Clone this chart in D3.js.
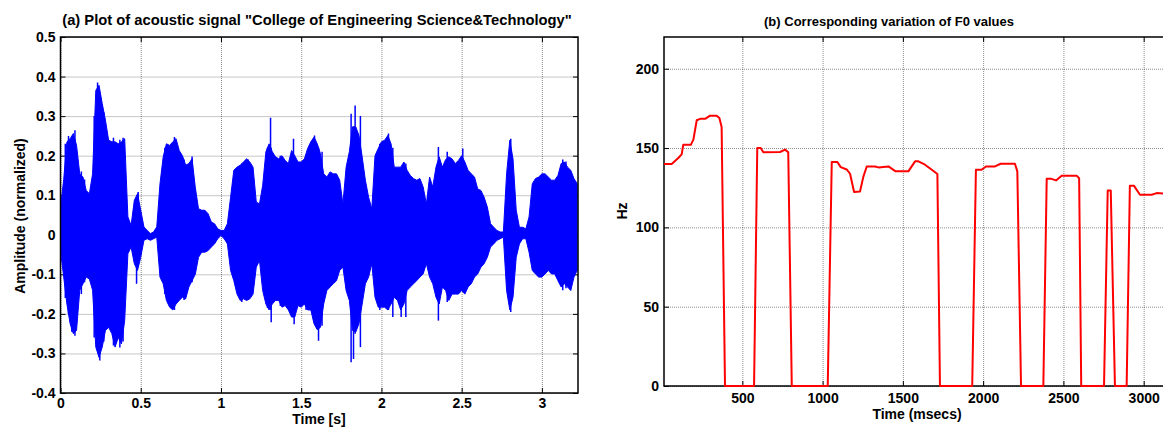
<!DOCTYPE html>
<html>
<head>
<meta charset="utf-8">
<script src="https://cdn.jsdelivr.net/npm/d3@7"></script>
<style>
  body { margin: 0; background: #fff; }
  svg { display: block; font-family: "Liberation Sans", Arial, sans-serif; font-weight: bold; }
  .grid line { stroke: #000; stroke-opacity: 0.45; stroke-dasharray: 1,1; }
  .grid path { display: none; }
  .ax path { display: none; }
  .ax line { stroke: #000; }
  .ax text { font-size: 14px; font-weight: bold; fill: #000; }
</style>
</head>
<body>
<script>
// (a) waveform envelope, one value every 0.02 s
const waveStep = 0.02;
const waveUpper = [
  0.07, 0.14, 0.235, 0.243, 0.256, 0.226, 0.154, 0.146, 0.112, 0.104,
  0.154, 0.365, 0.378, 0.332, 0.29, 0.239, 0.235, 0.235, 0.23, 0.235,
  0.243, 0.045, 0.024, 0.087, 0.104, 0.062, 0.02, 0.011, 0.003, 0.007,
  0.02, 0.129, 0.197, 0.23, 0.226, 0.235, 0.243, 0.213, 0.2, 0.176,
  0.18, 0.192, 0.12, 0.066, 0.062, 0.062, 0.053, 0.032, 0.028, 0.015,
  0.011, 0.011, 0.028, 0.095, 0.163, 0.171, 0.176, 0.184, 0.192, 0.184,
  0.171, 0.083, 0.078, 0.125, 0.21, 0.23, 0.21, 0.197, 0.192, 0.2,
  0.188, 0.18, 0.213, 0.2, 0.184, 0.184, 0.192, 0.218, 0.235, 0.247,
  0.23, 0.205, 0.154, 0.146, 0.159, 0.154, 0.154, 0.138, 0.078, 0.171,
  0.21, 0.273, 0.273, 0.251, 0.197, 0.138, 0.095, 0.066, 0.2, 0.218,
  0.235, 0.239, 0.251, 0.23, 0.171, 0.171, 0.171, 0.184, 0.163, 0.15,
  0.142, 0.138, 0.142, 0.121, 0.078, 0.146, 0.121, 0.171, 0.197, 0.171,
  0.19, 0.197, 0.192, 0.18, 0.188, 0.2, 0.184, 0.163, 0.154, 0.146,
  0.116, 0.112, 0.095, 0.07, 0.028, 0.019, 0.011, 0.007, 0.007, 0.154,
  0.239, 0.192, 0.062, 0.019, 0.019, 0.015, 0.045, 0.129, 0.142, 0.146,
  0.154, 0.154, 0.146, 0.138, 0.138, 0.15, 0.18, 0.184, 0.171, 0.163,
  0.142, 0.129
];
const waveLower = [
  -0.04, -0.107, -0.175, -0.225, -0.25, -0.242, -0.14, -0.124, -0.107, -0.112,
  -0.14, -0.284, -0.31, -0.284, -0.242, -0.234, -0.25, -0.284, -0.26, -0.276,
  -0.217, -0.048, -0.031, -0.073, -0.09, -0.057, -0.014, -0.01, -0.014, -0.01,
  -0.006, -0.107, -0.124, -0.166, -0.183, -0.19, -0.175, -0.166, -0.158, -0.162,
  -0.132, -0.116, -0.1, -0.057, -0.044, -0.044, -0.04, -0.031, -0.023, -0.01,
  -0.002, -0.01, -0.023, -0.09, -0.116, -0.15, -0.166, -0.162, -0.166, -0.162,
  -0.15, -0.082, -0.065, -0.141, -0.175, -0.19, -0.175, -0.166, -0.166, -0.183,
  -0.179, -0.19, -0.208, -0.208, -0.179, -0.183, -0.175, -0.19, -0.19, -0.225,
  -0.24, -0.234, -0.175, -0.141, -0.132, -0.124, -0.116, -0.09, -0.082, -0.141,
  -0.166, -0.242, -0.246, -0.225, -0.175, -0.124, -0.107, -0.073, -0.158, -0.183,
  -0.183, -0.183, -0.19, -0.175, -0.158, -0.166, -0.19, -0.175, -0.141, -0.132,
  -0.124, -0.116, -0.107, -0.099, -0.073, -0.107, -0.124, -0.158, -0.175, -0.132,
  -0.141, -0.166, -0.15, -0.15, -0.15, -0.141, -0.15, -0.132, -0.124, -0.107,
  -0.099, -0.082, -0.073, -0.057, -0.031, -0.023, -0.014, -0.01, -0.006, -0.141,
  -0.19, -0.158, -0.057, -0.023, -0.01, -0.01, -0.044, -0.09, -0.099, -0.107,
  -0.107, -0.099, -0.09, -0.099, -0.099, -0.116, -0.132, -0.124, -0.132, -0.141,
  -0.107, -0.09
];
// single tall excursions of the waveform: [time s, top, bottom]
const waveSpikes = [
  [0.03, 0.23, -0.16], [0.05, 0.25, -0.2], [0.07, 0.245, -0.245],
  [0.09, 0.264, -0.255], [0.13, 0.16, -0.15], [0.15, 0.14, -0.12],
  [0.21, 0.3, -0.26], [0.231, 0.385, -0.25], [0.245, 0.36, -0.318],
  [0.27, 0.31, -0.27], [0.33, 0.245, -0.28], [0.37, 0.24, -0.285], [0.39, 0.245, -0.27],
  [0.474, 0.09, -0.124], [0.484, 0.108, -0.08], [0.65, 0.22, -0.15], [0.71, 0.247, -0.19],
  [0.77, 0.19, -0.165], [0.82, 0.198, -0.12], [1.13, 0.18, -0.17], [1.17, 0.19, -0.165],
  [1.29, 0.22, -0.185], [1.309, 0.296, -0.19], [1.313, 0.22, -0.221], [1.37, 0.2, -0.18],
  [1.452, 0.243, -0.2], [1.456, 0.2, -0.226], [1.53, 0.2, -0.19], [1.583, 0.251, -0.22],
  [1.608, 0.22, -0.268], [1.63, 0.21, -0.23], [1.811, 0.306, -0.322], [1.826, 0.26, -0.314],
  [1.836, 0.327, -0.25], [1.869, 0.30, -0.284], [1.99, 0.23, -0.19], [2.044, 0.256, -0.19],
  [2.071, 0.22, -0.208], [2.123, 0.17, -0.208], [2.152, 0.18, -0.208],
  [2.355, 0.222, -0.217], [2.41, 0.21, -0.17], [2.507, 0.218, -0.14], [2.806, 0.243, -0.195],
  [3.13, 0.19, -0.14], [3.15, 0.185, -0.135]
];
const waveXTicks = [0, 0.5, 1, 1.5, 2, 2.5, 3];
const waveXLabels = ["0", "0.5", "1", "1.5", "2", "2.5", "3"];
const waveYTicks = [-0.4, -0.3, -0.2, -0.1, 0, 0.1, 0.2, 0.3, 0.4, 0.5];
const waveYLabels = ["-0.4", "-0.3", "-0.2", "-0.1", "0", "0.1", "0.2", "0.3", "0.4", "0.5"];

// (b) F0 contour
const f0Time = [12, 60, 101, 122, 132, 179, 195, 216, 237, 268, 299, 340, 357, 371, 392,
  573, 593, 614, 631, 735, 766, 786, 808,
  1032, 1057, 1092, 1113, 1150, 1171, 1196, 1233, 1254, 1275, 1327, 1348, 1410, 1455,
  1534, 1576, 1597, 1638, 1680, 1715, 1731,
  1932, 1955, 1990, 2018, 2074, 2109, 2198, 2213, 2236,
  2375, 2396, 2421, 2454, 2489, 2582, 2598, 2611,
  2753, 2776, 2795, 2821,
  2894, 2914, 2939, 2977, 3050, 3081, 3130];
const f0Hz = [140, 140, 143.7, 146, 152, 152, 155.3, 167.5, 168.4, 168.4, 170.4, 170.4, 169, 163.3, 0,
  0, 150, 150, 147.3, 147.5, 149, 147.3, 0,
  0, 141.2, 141.2, 138, 136.5, 133.8, 122.3, 122.6, 132, 138.4, 138.4, 137.8, 138.4, 135.3,
  135.3, 141.6, 141.6, 139.5, 136.3, 133.6, 0,
  0, 136.3, 136.3, 138.4, 138.4, 140.1, 140.1, 135.3, 0,
  0, 130.7, 130.7, 129.6, 132.6, 132.6, 131, 0,
  0, 123.3, 123.3, 0,
  0, 126.3, 126.3, 120.6, 120.6, 121.6, 121.3];
const f0XTicks = [500, 1000, 1500, 2000, 2500, 3000];
const f0YTicks = [0, 50, 100, 150, 200];

const W = 1163, H = 427;
const svg = d3.select("body").append("svg").attr("width", W).attr("height", H);

function frame(g, x, y, xTicks, yTicks, xFmt, yFmt, xPad) {
  const [x0, x1] = x.range();
  const [y0, y1] = y.range(); // y0 bottom, y1 top
  g.append("g").attr("class", "grid").attr("transform", `translate(0,${y0})`)
    .call(d3.axisBottom(x).tickValues(xTicks).tickSize(-(y0 - y1)).tickFormat(""));
  g.append("g").attr("class", "grid").attr("transform", `translate(${x0},0)`)
    .call(d3.axisLeft(y).tickValues(yTicks).tickSize(-(x1 - x0)).tickFormat(""));
  g.append("g").attr("class", "ax").attr("transform", `translate(0,${y0})`)
    .call(d3.axisBottom(x).tickValues(xTicks).tickSize(-5).tickPadding(xPad).tickFormat(xFmt));
  g.append("g").attr("class", "ax").attr("transform", `translate(0,${y1})`)
    .call(d3.axisTop(x).tickValues(xTicks).tickSize(-5).tickFormat(""));
  g.append("g").attr("class", "ax").attr("transform", `translate(${x0},0)`)
    .call(d3.axisLeft(y).tickValues(yTicks).tickSize(-5).tickPadding(5).tickFormat(yFmt));
  g.append("g").attr("class", "ax").attr("transform", `translate(${x1},0)`)
    .call(d3.axisRight(y).tickValues(yTicks).tickSize(-5).tickFormat(""));
}

function box(g, x, y) {
  const [x0, x1] = x.range();
  const [y0, y1] = y.range();
  g.append("rect").attr("x", x0).attr("y", y1).attr("width", x1 - x0).attr("height", y0 - y1)
    .attr("fill", "none").attr("stroke", "#000").attr("stroke-width", 1.5);
}

// ---- panel (a)
const xa = d3.scaleLinear().domain([0, 3.225]).range([60.5, 578]);
const ya = d3.scaleLinear().domain([-0.4, 0.5]).range([393, 37]);
const ga = svg.append("g");
frame(ga, xa, ya, waveXTicks, waveYTicks,
  (d, i) => waveXLabels[i], (d, i) => waveYLabels[i], 5);

svg.append("clipPath").attr("id", "clipa").append("rect")
  .attr("x", 60.5).attr("y", 37).attr("width", 578 - 60.5).attr("height", 393 - 37);

const wave = waveUpper.map((u, i) => ({ t: i * waveStep, hi: u, lo: waveLower[i] }));
const area = d3.area().x(d => xa(d.t)).y0(d => ya(d.lo)).y1(d => ya(d.hi));
const wg = ga.append("g").attr("clip-path", "url(#clipa)");
wg.append("path").datum(wave).attr("d", area)
  .attr("fill", "#0000ff").attr("stroke", "#0000ff").attr("stroke-width", 1);
wg.selectAll("line.spike").data(waveSpikes).enter().append("line")
  .attr("class", "spike")
  .attr("x1", d => xa(d[0])).attr("x2", d => xa(d[0]))
  .attr("y1", d => ya(d[1])).attr("y2", d => ya(d[2]))
  .attr("stroke", "#0000ff").attr("stroke-width", 1.5);
box(ga, xa, ya);

const ta = ga.append("text").attr("x", 317).attr("y", 25).attr("text-anchor", "middle")
  .attr("font-size", 14).text('(a) Plot of acoustic signal "College of Engineering Science&Technology"');
// the title spans about 510 px in the picture
ta.attr("font-size", 14 * 510 / ta.node().getComputedTextLength());
ga.append("text").attr("x", 319).attr("y", 424).attr("text-anchor", "middle")
  .attr("font-size", 14).text("Time [s]");
ga.append("text").attr("transform", "translate(25,216) rotate(-90)").attr("text-anchor", "middle")
  .attr("font-size", 14).text("Amplitude (normalized)");

// ---- panel (b)
const xb = d3.scaleLinear().domain([12, 3164]).range([664, 1170]);
const yb = d3.scaleLinear().domain([0, 220]).range([386, 37]);
const gb = svg.append("g");
frame(gb, xb, yb, f0XTicks, f0YTicks, d => String(d), d => String(d), 7);
box(gb, xb, yb);

const f0 = f0Time.map((t, i) => ({ t: t, hz: f0Hz[i] }));
gb.append("path").datum(f0)
  .attr("d", d3.line().x(d => xb(d.t)).y(d => yb(d.hz)))
  .attr("fill", "none").attr("stroke", "#ff0000").attr("stroke-width", 2)
  .attr("stroke-linejoin", "round");

gb.append("text").attr("x", 889).attr("y", 26).attr("text-anchor", "middle")
  .attr("font-size", 13).text("(b) Corresponding variation of F0 values");
gb.append("text").attr("x", 917).attr("y", 419).attr("text-anchor", "middle")
  .attr("font-size", 14).text("Time (msecs)");
gb.append("text").attr("transform", "translate(627,211) rotate(-90)").attr("text-anchor", "middle")
  .attr("font-size", 14).text("Hz");
</script>
</body>
</html>
